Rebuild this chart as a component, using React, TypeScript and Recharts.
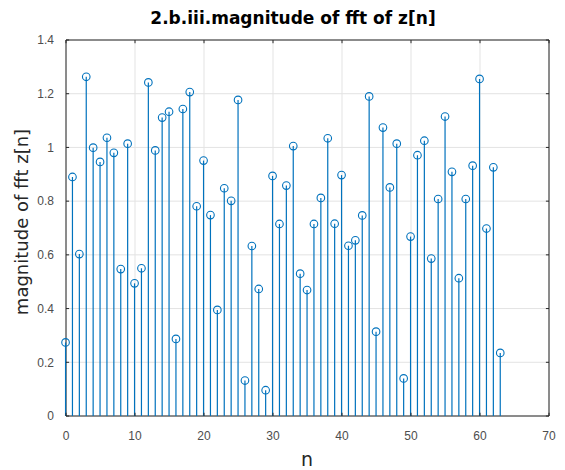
import { Bar, ComposedChart, XAxis, YAxis, CartesianGrid, ReferenceArea, ReferenceLine } from "recharts"

// sample index n and |FFT(z[n])|
const nValues = [
  0, 1, 2, 3, 4, 5, 6, 7, 8, 9, 10, 11, 12, 13, 14, 15,
  16, 17, 18, 19, 20, 21, 22, 23, 24, 25, 26, 27, 28, 29, 30, 31,
  32, 33, 34, 35, 36, 37, 38, 39, 40, 41, 42, 43, 44, 45, 46, 47,
  48, 49, 50, 51, 52, 53, 54, 55, 56, 57, 58, 59, 60, 61, 62, 63,
]
const magnitudes = [
  0.274, 0.89, 0.603, 1.263, 0.999, 0.946, 1.036, 0.98, 0.547, 1.014, 0.494, 0.55, 1.242, 0.989, 1.111, 1.133,
  0.287, 1.143, 1.206, 0.781, 0.951, 0.748, 0.395, 0.848, 0.801, 1.177, 0.132, 0.633, 0.473, 0.096, 0.894, 0.715,
  0.858, 1.005, 0.53, 0.469, 0.715, 0.812, 1.034, 0.716, 0.897, 0.634, 0.654, 0.747, 1.19, 0.314, 1.074, 0.851,
  1.014, 0.14, 0.668, 0.971, 1.025, 0.586, 0.808, 1.115, 0.909, 0.513, 0.808, 0.932, 1.255, 0.698, 0.926, 0.235,
]
const xTicks = [0, 10, 20, 30, 40, 50, 60, 70]
const yTicks = [0, 0.2, 0.4, 0.6, 0.8, 1, 1.2, 1.4]
const X_MAX = 70
const Y_MAX = 1.4

const data = nValues.map((n, i) => ({ n, mag: magnitudes[i] }))

const BLUE = "#0072BD"
const AXIS = "#262626"
const tickFont = { fontSize: 12, fill: "#4d4d4d", fontFamily: "Liberation Sans, Arial, sans-serif" }
const labelFont = "DejaVu Sans, sans-serif"

// inward tick lengths in data units (~3px)
const XT = 0.45
const YT = 0.012

const Stem = (props: any) => {
  const { x, y, width, height } = props
  const cx = x + width / 2
  return (
    <g>
      <line x1={cx} x2={cx} y1={y} y2={y + height} stroke={BLUE} strokeWidth={1.2} />
      <circle cx={cx} cy={y} r={3.8} fill="white" fillOpacity={0} stroke={BLUE} strokeWidth={1.1} />
    </g>
  )
}

export default function App() {
  return (
    <div style={{ position: "absolute", left: 0, top: 0, width: 565, height: 470, background: "#fff" }}>
      <ComposedChart width={565} height={470} data={data} margin={{ top: 40, right: 16, bottom: 24, left: 36 }}>
        <CartesianGrid stroke="#e3e3e3" strokeWidth={1} />
        <XAxis
          dataKey="n"
          type="number"
          domain={[0, X_MAX]}
          ticks={xTicks}
          interval={0}
          height={30}
          axisLine={false}
          tickLine={false}
          tick={tickFont}
          tickMargin={9}
        />
        <YAxis
          type="number"
          domain={[0, Y_MAX]}
          ticks={yTicks}
          interval={0}
          width={30}
          axisLine={false}
          tickLine={false}
          tick={tickFont}
          tickMargin={6}
        />
        {xTicks.map((t) => (
          <ReferenceLine key={"xb" + t} segment={[{ x: t, y: 0 }, { x: t, y: YT }]} stroke={AXIS} ifOverflow="visible" />
        ))}
        {xTicks.map((t) => (
          <ReferenceLine key={"xt" + t} segment={[{ x: t, y: Y_MAX }, { x: t, y: Y_MAX - YT }]} stroke={AXIS} ifOverflow="visible" />
        ))}
        {yTicks.map((t) => (
          <ReferenceLine key={"yl" + t} segment={[{ x: 0, y: t }, { x: XT, y: t }]} stroke={AXIS} ifOverflow="visible" />
        ))}
        {yTicks.map((t) => (
          <ReferenceLine key={"yr" + t} segment={[{ x: X_MAX, y: t }, { x: X_MAX - XT, y: t }]} stroke={AXIS} ifOverflow="visible" />
        ))}
        <Bar dataKey="mag" barSize={2} shape={Stem} isAnimationActive={false} />
        <ReferenceArea
          x1={0}
          x2={X_MAX}
          y1={0}
          y2={Y_MAX}
          fill="none"
          fillOpacity={0}
          stroke={AXIS}
          strokeWidth={1}
          ifOverflow="visible"
          label={{
            content: () => (
              <g>
                <text x={293} y={24} textAnchor="middle" fontSize={17} fontWeight="bold" fill="#000" fontFamily={labelFont}>
                  2.b.iii.magnitude of fft of z[n]
                </text>
                <text x={307} y={466} textAnchor="middle" fontSize={19} fill={AXIS} fontFamily={labelFont}>
                  n
                </text>
                <text
                  x={28}
                  y={222}
                  textAnchor="middle"
                  fontSize={18}
                  fill={AXIS}
                  fontFamily={labelFont}
                  transform="rotate(-90 28 222)"
                >
                  magnitude of fft z[n]
                </text>
              </g>
            ),
          }}
        />
      </ComposedChart>
    </div>
  )
}
